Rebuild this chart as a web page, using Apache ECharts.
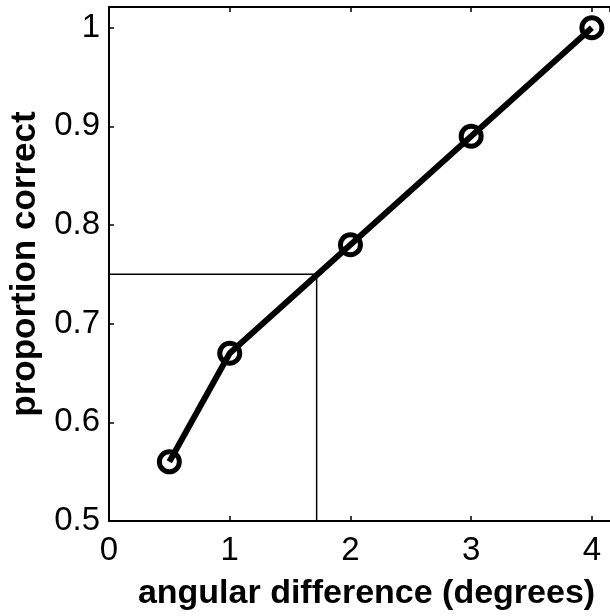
<!DOCTYPE html>
<html>
<head>
<meta charset="utf-8">
<script src="https://cdn.jsdelivr.net/npm/echarts@6/dist/echarts.min.js"></script>
<style>
  html, body { margin: 0; padding: 0; background: #fff; }
  #chart { width: 610px; height: 616px; }
</style>
</head>
<body>
<div id="chart"></div>
<script>
// Psychometric data: proportion correct vs. angular difference
const angles = [0.5, 1, 2, 3, 4];
const proportionCorrect = [0.56, 0.67, 0.78, 0.89, 1.0];

// 75% threshold guide
const thresholdLevel = 0.75;
const thresholdAngle = 1.72;

const xTicks = [0, 1, 2, 3, 4];
const yTicks = [0.5, 0.6, 0.7, 0.8, 0.9, 1];

const FONT = '"Liberation Sans", Arial, Helvetica, sans-serif';

const chart = echarts.init(document.getElementById('chart'), null, { renderer: 'canvas' });

const mainData = angles.map((a, i) => [a, proportionCorrect[i]]);
const guideData = [
  [xTicks[0], thresholdLevel],
  [thresholdAngle, thresholdLevel],
  [thresholdAngle, yTicks[0]]
];

const fmt = v => {
  const r = Math.round(v * 10) / 10;
  return r === 1 ? '1' : (r === 0 ? '0' : String(r));
};

chart.setOption({
  animation: false,
  backgroundColor: '#ffffff',
  grid: { left: 109, top: 7, width: 504, height: 516, containLabel: false },
  xAxis: [
    {
      type: 'value',
      min: xTicks[0],
      max: 4.15,
      interval: 1,
      position: 'bottom',
      name: 'angular difference (degrees)',
      nameLocation: 'middle',
      nameGap: 56,
      nameTextStyle: { fontFamily: FONT, fontSize: 34, fontWeight: 'bold', color: '#000',
                       padding: [0, 0, 0, 14] },
      axisLine: { show: true, onZero: false, lineStyle: { color: '#000', width: 2 } },
      axisTick: { show: true, inside: true, length: 5, lineStyle: { color: '#000', width: 1.5 } },
      axisLabel: { show: true, margin: 13, fontFamily: FONT, fontSize: 33, color: '#000', formatter: fmt,
                   showMaxLabel: false },
      splitLine: { show: false }
    },
    {
      type: 'value',
      min: xTicks[0],
      max: 4.15,
      interval: 1,
      position: 'top',
      axisLine: { show: true, onZero: false, lineStyle: { color: '#000', width: 2 } },
      axisTick: { show: true, inside: true, length: 5, lineStyle: { color: '#000', width: 1.5 } },
      axisLabel: { show: false },
      splitLine: { show: false }
    }
  ],
  yAxis: [
    {
      type: 'value',
      min: yTicks[0],
      max: 1.021,
      interval: 0.1,
      name: 'proportion correct',
      nameLocation: 'middle',
      nameGap: 65,
      nameTextStyle: { fontFamily: FONT, fontSize: 35, fontWeight: 'bold', color: '#000' },
      axisLine: { show: true, onZero: false, lineStyle: { color: '#000', width: 2 } },
      axisTick: { show: true, inside: true, length: 5, lineStyle: { color: '#000', width: 1.5 } },
      axisLabel: { show: true, margin: 9, fontFamily: FONT, fontSize: 33, color: '#000', formatter: fmt,
                   showMaxLabel: false },
      splitLine: { show: false }
    }
  ],
  series: [
    {
      type: 'line',
      data: guideData,
      xAxisIndex: 0,
      yAxisIndex: 0,
      showSymbol: false,
      symbol: 'none',
      silent: true,
      lineStyle: { color: '#000', width: 1.5 },
      z: 1
    },
    {
      type: 'line',
      data: mainData,
      xAxisIndex: 0,
      yAxisIndex: 0,
      symbol: 'circle',
      symbolSize: 20,
      itemStyle: { color: 'rgba(0,0,0,0)', borderColor: '#000', borderWidth: 5 },
      lineStyle: { color: '#000', width: 6 },
      z: 3
    }
  ]
});
</script>
</body>
</html>
